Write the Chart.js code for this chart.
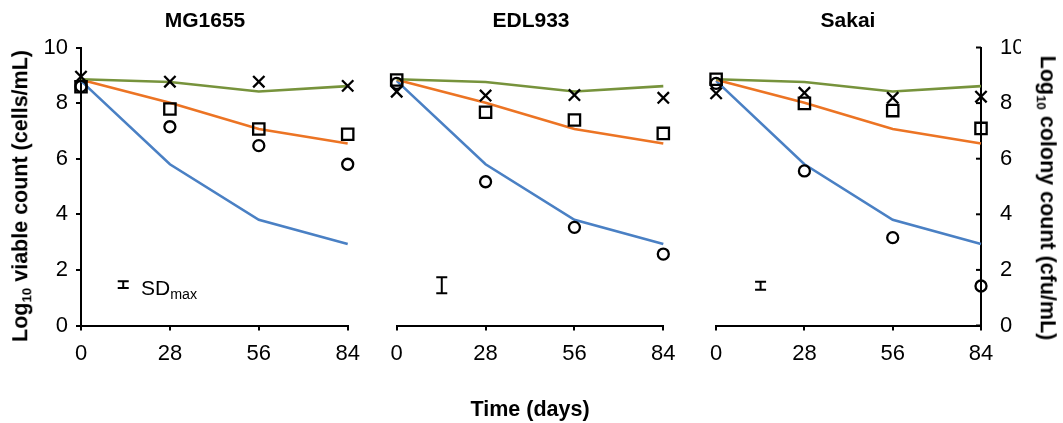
<!DOCTYPE html>
<html><head><meta charset="utf-8">
<script src="https://cdn.jsdelivr.net/npm/chart.js@4/dist/chart.umd.min.js"></script>
<style>
html,body{margin:0;padding:0;background:#fff;}
#wrap{position:relative;width:1063px;height:423px;overflow:hidden;font-family:'Liberation Sans',Arial,sans-serif;color:#000;}
canvas{position:absolute;top:0;}
.t{position:absolute;white-space:nowrap;color:#000;transform:translate(-50%,-50%);line-height:1;}
.b{font-weight:bold;}
.sub{font-size:0.62em;position:relative;top:0.3em;}
</style></head><body>
<div id="wrap">
  <canvas id="c1" width="380" height="423" style="left:0px"></canvas>
  <canvas id="c2" width="320" height="423" style="left:380px"></canvas>
  <canvas id="c3" width="363" height="423" style="left:700px"></canvas>
  <div class="t b" style="left:205px;top:19px;font-size:21px">MG1655</div>
  <div class="t b" style="left:531px;top:19px;font-size:21px">EDL933</div>
  <div class="t b" style="left:848px;top:19px;font-size:21px">Sakai</div>
  <div class="t b" style="left:21px;top:196px;font-size:21.5px;transform:translate(-50%,-50%) rotate(-90deg)">Log<span class="sub">10</span> viable count (cells/mL)</div>
  <div class="t b" style="left:1047px;top:198px;font-size:21.5px;transform:translate(-50%,-50%) rotate(90deg)">Log<span class="sub">10</span> colony count (cfu/mL)</div>
  <div class="t b" style="left:530px;top:410px;font-size:21.5px">Time (days)</div>
  <div class="t" style="left:141px;top:287px;font-size:21px;transform:translate(0,-50%)">SD<span class="sub" style="font-size:0.68em">max</span></div>
</div>
<script>
// ---- data ----
const days = [0, 28, 56, 84];
const xTicks = [0, 28, 56, 84];
const yTicks = [0, 2, 4, 6, 8, 10];
const panelTitles = ['MG1655', 'EDL933', 'Sakai'];

// model curves (same in each panel)
const modelGreen  = [8.86, 8.76, 8.42, 8.61];
const modelOrange = [8.84, 8.01, 7.07, 6.55];
const modelBlue   = [8.80, 5.80, 3.80, 2.93];

// observed markers
const mgCross  = [8.95, 8.77, 8.77, 8.62];
const mgSquare = [8.59, 7.79, 7.07, 6.88];
const mgCircle = [8.60, 7.15, 6.47, 5.80];

const edlCross  = [8.41, 8.27, 8.29, 8.19];
const edlSquare = [8.83, 7.67, 7.39, 6.91];
const edlCircle = [8.71, 5.17, 3.53, 2.57];

const sakCross  = [8.35, 8.37, 8.19, 8.23];
const sakSquare = [8.86, 7.99, 7.73, 7.09];
const sakCircle = [8.71, 5.56, 3.16, 1.42];

// SDmax error bar: day position, centre, half-width
const sdDay    = [13.3, 14.2, 14.1];
const sdCenter = [1.47, 1.45, 1.43];
const sdHalf   = [0.12, 0.29, 0.14];

// ---- styling ----
const FONT = "'Liberation Sans', Arial, sans-serif";
const GREEN = '#77933C', ORANGE = '#EC7424', BLUE = '#4A80C4';

const pts = arr => days.map((d, i) => ({x: d, y: arr[i]}));

function lineDs(arr, color) {
  return {data: pts(arr), borderColor: color, borderWidth: 2.6, pointRadius: 0, tension: 0, order: 2, clip: false};
}
function markDs(arr, style, r) {
  return {data: pts(arr), showLine: false, pointStyle: style, pointRadius: r, pointHoverRadius: r,
    borderColor: '#000', backgroundColor: 'rgba(0,0,0,0)', pointBorderWidth: 2.3, borderWidth: 2.3, order: 1, clip: false};
}

const errPlugin = {
  id: 'sdbar',
  afterDatasetsDraw(chart, args, opts) {
    const {ctx, scales: {x, y}} = chart;
    const px = x.getPixelForValue(opts.day);
    const y1 = y.getPixelForValue(opts.center + opts.half);
    const y2 = y.getPixelForValue(opts.center - opts.half);
    ctx.save();
    ctx.strokeStyle = '#000'; ctx.lineWidth = 2;
    ctx.beginPath();
    ctx.moveTo(px, y1); ctx.lineTo(px, y2);
    ctx.moveTo(px - 5.5, y1); ctx.lineTo(px + 5.5, y1);
    ctx.moveTo(px - 5.5, y2); ctx.lineTo(px + 5.5, y2);
    ctx.stroke();
    ctx.restore();
  }
};

const innerTicks = {
  id: 'innerTicks',
  afterDraw(chart, args, opts) {
    if (!opts.on) return;
    const {ctx, scales: {y}} = chart;
    ctx.save();
    ctx.strokeStyle = '#000'; ctx.lineWidth = 2;
    y.ticks.forEach(t => {
      const py = y.getPixelForValue(t.value);
      ctx.beginPath(); ctx.moveTo(y.left - 5, py); ctx.lineTo(y.left, py); ctx.stroke();
    });
    ctx.restore();
  }
};

function xScale() {
  return {
    type: 'linear', min: 0, max: 84, position: 'bottom',
    afterBuildTicks: s => { s.ticks = xTicks.map(v => ({value: v})); },
    afterFit: s => { s.height = 42; },
    border: {display: true, color: '#000', width: 2},
    grid: {display: true, drawOnChartArea: false, drawTicks: true, tickLength: 5, color: '#000', lineWidth: 2},
    ticks: {color: '#000', font: {family: FONT, size: 22}, padding: 10, maxRotation: 0, autoSkip: false}
  };
}
function yScale(mode) {
  const s = {
    type: 'linear', min: 0, max: 10,
    afterBuildTicks: sc => { sc.ticks = yTicks.map(v => ({value: v})); },
    border: {display: true, color: '#000', width: 2},
    ticks: {color: '#000', font: {family: FONT, size: 22}, autoSkip: false}
  };
  if (mode === 'none') { s.display = false; }
  else if (mode === 'left') {
    s.position = 'left';
    s.afterFit = sc => { sc.width = 40; };
    s.grid = {display: true, drawOnChartArea: false, drawTicks: true, tickLength: 5, color: '#000', lineWidth: 2};
    s.ticks.padding = 8;
  } else {
    s.position = 'right';
    s.afterFit = sc => { sc.width = 40; };
    s.grid = {display: true, drawOnChartArea: false, drawTicks: false, color: '#000', lineWidth: 2};
    s.ticks.padding = 19;
  }
  return s;
}

function makeChart(id, cross, square, circle, idx, ymode, padding) {
  new Chart(document.getElementById(id), {
    type: 'line',
    data: {datasets: [
      markDs(cross, 'crossRot', 8),
      markDs(square, 'rect', 8),
      markDs(circle, 'circle', 5.5),
      lineDs(modelGreen, GREEN),
      lineDs(modelOrange, ORANGE),
      lineDs(modelBlue, BLUE)
    ]},
    options: {
      responsive: false, animation: false, devicePixelRatio: 1,
      layout: {padding: padding},
      scales: {x: xScale(), y: yScale(ymode)},
      plugins: {
        legend: {display: false}, tooltip: {enabled: false}, title: {display: false},
        sdbar: {day: sdDay[idx], center: sdCenter[idx], half: sdHalf[idx]},
        innerTicks: {on: ymode === 'right'}
      }
    },
    plugins: [errPlugin, innerTicks]
  });
}

makeChart('c1', mgCross, mgSquare, mgCircle, 0, 'left',  {left: 41,   top: 47.5, right: 32.3, bottom: 55.5});
makeChart('c2', edlCross, edlSquare, edlCircle, 1, 'none', {left: 16.7, top: 47.5, right: 36.7, bottom: 55.5});
makeChart('c3', sakCross, sakSquare, sakCircle, 2, 'right', {left: 14.3, top: 47.5, right: 42,   bottom: 55.5});
</script>
</body></html>
